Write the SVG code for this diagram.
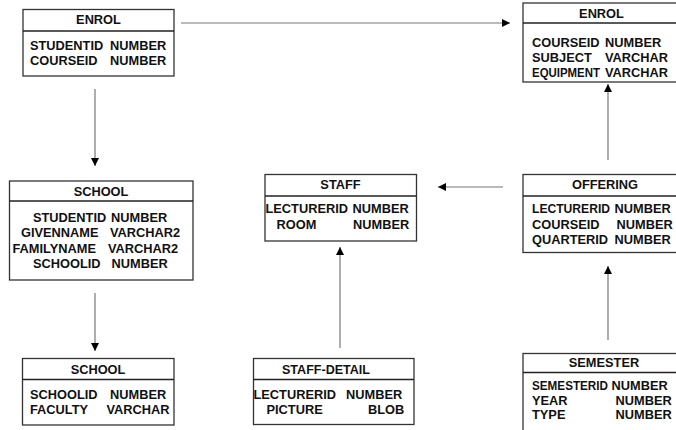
<svg xmlns="http://www.w3.org/2000/svg" width="676" height="430" viewBox="0 0 676 430">
  <style>
    .box { fill: #ffffff; stroke: #333333; stroke-width: 1.3; }
    .div { stroke: #222222; stroke-width: 1.5; }
    .t { font-family: "Liberation Sans", Arial, sans-serif; font-weight: bold; font-size: 12.8px; fill: #111111; }
    .h { text-anchor: middle; }
    .edge { stroke: #777777; stroke-width: 1.2; fill: none; marker-end: url(#arrow); }
  </style>
  <defs>
    <marker id="arrow" viewBox="0 0 10 10" refX="10" refY="5" markerWidth="9" markerHeight="8" markerUnits="userSpaceOnUse" orient="auto">
      <path d="M0,0 L10,5 L0,10 Z" fill="#000000"/>
    </marker>
  </defs>
  <rect width="676" height="430" fill="#ffffff"/>

  <!-- connectors -->
  <g id="connectors">
    <line class="edge" x1="181" y1="23" x2="510" y2="23"/>
    <line class="edge" x1="95" y1="89" x2="95" y2="166"/>
    <line class="edge" x1="95" y1="293" x2="95" y2="351"/>
    <line class="edge" x1="503" y1="187" x2="438" y2="187"/>
    <line class="edge" x1="608" y1="160" x2="608" y2="84"/>
    <line class="edge" x1="340" y1="348" x2="340" y2="247"/>
    <line class="edge" x1="608" y1="340" x2="608" y2="266"/>
  </g>

  <!-- ENROL (student/course) -->
  <g id="enrol-left">
    <rect class="box" x="23" y="9.5" width="151" height="66.5"/>
    <line class="div" x1="23" y1="31" x2="174" y2="31"/>
    <text class="t h" x="98.5" y="24">ENROL</text>
    <text class="t" x="30" y="50">STUDENTID</text><text class="t" x="110" y="50">NUMBER</text>
    <text class="t" x="30" y="65">COURSEID</text><text class="t" x="110" y="65">NUMBER</text>
  </g>

  <!-- ENROL (course/subject) -->
  <g id="enrol-right">
    <rect class="box" x="523" y="3" width="160" height="79"/>
    <line class="div" x1="523" y1="23" x2="683" y2="23"/>
    <text class="t h" x="601.5" y="17.5">ENROL</text>
    <text class="t" x="532" y="47">COURSEID</text><text class="t" x="605" y="47">NUMBER</text>
    <text class="t" x="532" y="62">SUBJECT</text><text class="t" x="605" y="62">VARCHAR</text>
    <text class="t" x="532" y="77" textLength="68" lengthAdjust="spacingAndGlyphs">EQUIPMENT</text><text class="t" x="605" y="77">VARCHAR</text>
  </g>

  <!-- SCHOOL (student details) -->
  <g id="school-mid">
    <rect class="box" x="9.5" y="181" width="183.5" height="99"/>
    <line class="div" x1="9.5" y1="201" x2="193" y2="201"/>
    <text class="t h" x="101" y="196">SCHOOL</text>
    <text class="t" x="33" y="222">STUDENTID</text><text class="t" x="111" y="222">NUMBER</text>
    <text class="t" x="21" y="237">GIVENNAME</text><text class="t" x="110" y="237">VARCHAR2</text>
    <text class="t" x="12.5" y="253">FAMILYNAME</text><text class="t" x="108" y="253">VARCHAR2</text>
    <text class="t" x="33" y="268">SCHOOLID</text><text class="t" x="111.5" y="268">NUMBER</text>
  </g>

  <!-- SCHOOL (faculty) -->
  <g id="school-bottom">
    <rect class="box" x="22.5" y="358.5" width="151.5" height="66.5"/>
    <line class="div" x1="22.5" y1="379.5" x2="174" y2="379.5"/>
    <text class="t h" x="98" y="373.5">SCHOOL</text>
    <text class="t" x="30" y="398.5">SCHOOLID</text><text class="t" x="110" y="398.5">NUMBER</text>
    <text class="t" x="30" y="414">FACULTY</text><text class="t" x="106.5" y="414">VARCHAR</text>
  </g>

  <!-- STAFF -->
  <g id="staff">
    <rect class="box" x="265" y="174.5" width="151.5" height="66.5"/>
    <line class="div" x1="265" y1="196" x2="416.5" y2="196"/>
    <text class="t h" x="340.5" y="189">STAFF</text>
    <text class="t" x="265.5" y="212.5">LECTURERID</text><text class="t" x="352.5" y="212.5">NUMBER</text>
    <text class="t" x="276.5" y="228.5">ROOM</text><text class="t" x="353" y="228.5">NUMBER</text>
  </g>

  <!-- STAFF-DETAIL -->
  <g id="staff-detail">
    <rect class="box" x="253.5" y="358.5" width="160.5" height="66"/>
    <line class="div" x1="253.5" y1="379.5" x2="414" y2="379.5"/>
    <text class="t" x="282" y="373.5" textLength="88" lengthAdjust="spacingAndGlyphs">STAFF-DETAIL</text>
    <text class="t" x="253.5" y="398.5">LECTURERID</text><text class="t" x="346" y="398.5">NUMBER</text>
    <text class="t" x="266.5" y="414">PICTURE</text><text class="t" x="368" y="414">BLOB</text>
  </g>

  <!-- OFFERING -->
  <g id="offering">
    <rect class="box" x="523" y="174.5" width="164" height="78"/>
    <line class="div" x1="523" y1="196" x2="687" y2="196"/>
    <text class="t h" x="605" y="189">OFFERING</text>
    <text class="t" x="532" y="212.5" textLength="78" lengthAdjust="spacingAndGlyphs">LECTURERID</text><text class="t" x="614.5" y="212.5">NUMBER</text>
    <text class="t" x="532" y="228.5">COURSEID</text><text class="t" x="616.5" y="228.5">NUMBER</text>
    <text class="t" x="532" y="244">QUARTERID</text><text class="t" x="614.5" y="244">NUMBER</text>
  </g>

  <!-- SEMESTER -->
  <g id="semester">
    <rect class="box" x="523" y="353.5" width="164" height="90"/>
    <line class="div" x1="523" y1="372.5" x2="687" y2="372.5"/>
    <text class="t h" x="604" y="367">SEMESTER</text>
    <text class="t" x="532" y="390" textLength="76" lengthAdjust="spacingAndGlyphs">SEMESTERID</text><text class="t" x="611.5" y="390">NUMBER</text>
    <text class="t" x="532" y="404.5">YEAR</text><text class="t" x="615.5" y="404.5">NUMBER</text>
    <text class="t" x="532" y="419">TYPE</text><text class="t" x="615.5" y="419">NUMBER</text>
  </g>
</svg>
